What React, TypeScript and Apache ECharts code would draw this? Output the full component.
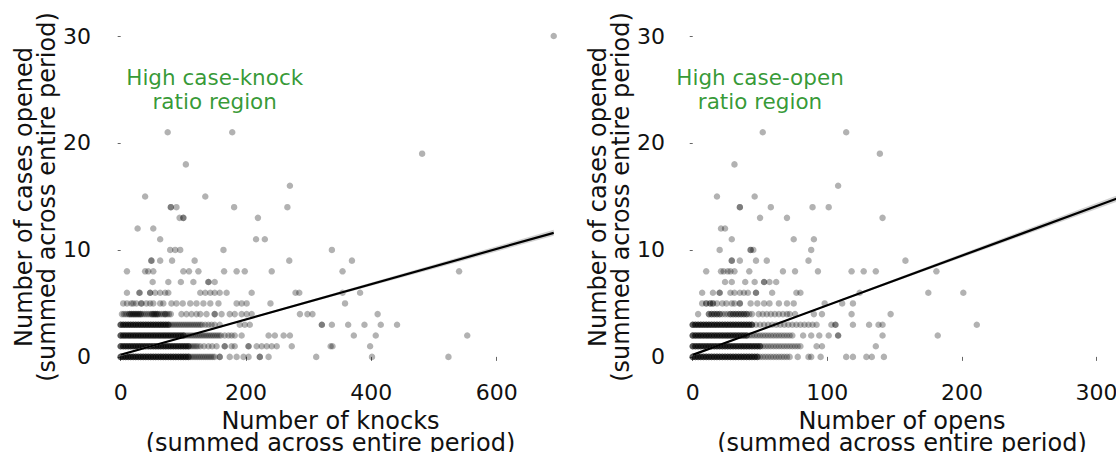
import React, { useEffect, useRef } from "react";
import * as echarts from "echarts";

type Obs = number | [number, number]; // x value, or [x value, number of observations]

// ---------- tick labels ----------
const knockTicks = [0, 200, 400, 600];
const openTicks = [0, 100, 200, 300];
const caseTicks = [0, 10, 20, 30];

// ---------- left panel: number of knocks per cases-opened level ----------
const knockCaseLevels = [0, 1, 2, 3, 4, 5, 6, 7, 8, 9, 10, 11, 12, 13, 14, 15, 16, 18, 19, 21, 30];
const knocks0: Obs[] = [[0,3],[4,3],[8,3],[12,3],[16,3],[20,3],[24,3],[28,3],[32,3],[36,3],[40,3],[44,3],[48,3],[52,3],[56,3],[60,3],[64,3],[68,3],[72,3],[76,3],[80,3],[84,3],[88,3],[92,3],[96,3],[100,3],[104,3],[108,3],
  111,114,117,120,123,126,129,132,135,138,141,144,147,150,[158,2],174,185,196,204,[222,2],236,312,401,523];
const knocks1: Obs[] = [[0,3],[4,3],[8,3],[12,3],[16,3],[20,3],[24,3],[28,3],[32,3],[36,3],[40,3],[44,3],[48,3],[52,3],[56,3],[60,3],[64,3],[68,3],[72,3],[76,3],[80,3],[84,3],[88,3],[92,3],[96,3],[100,3],[104,3],[108,3],
  111,114,117,120,123,127,133,140,146,153,[166,2],177,182,[204,2],217,225,233,241,249,273,335,338,398];
const knocks2: Obs[] = [[0,3],[4,3],[8,3],[12,3],[16,3],[20,3],[24,3],[28,3],[32,3],[36,3],[40,3],[44,3],[48,3],[52,3],[56,3],[60,3],[64,3],[68,3],[72,3],[76,3],[80,3],[84,3],[88,3],[92,3],[96,3],[100,3],
  103,106,109,112,115,118,121,124,127,130,133,136,139,142,145,148,151,154,157,160,166,172,177,182,193,236,246,260,270,372,407,553];
const knocks3: Obs[] = [[0,3],[4,3],[8,3],[12,3],[16,3],[20,3],[24,3],[28,3],[32,3],[36,3],[40,3],[44,3],[48,3],[52,3],[56,3],[60,3],[64,3],[68,3],[72,3],[76,3],
  79,82,85,88,91,94,97,100,103,106,109,112,115,118,121,124,127,130,135,140,145,150,158,190,198,206,[321,2],337,363,389,415,441];
const knocks4: Obs[] = [2,5,8,11,[14,2],[17,2],[20,2],[23,2],[26,2],[29,2],[32,2],35,38,41,44,47,[50,2],[53,2],[56,2],[59,2],62,65,68,[71,2],74,77,80,
  97,105,113,121,127,137,[150,2],161,174,182,193,201,209,286,298,306,410];
const knocks5: Obs[] = [4,10,17,20,25,[33,2],41,47,52,63,68,81,89,99,111,121,132,143,156,185,193,201,239,358];
const knocks6: Obs[] = [10,[30,2],[47,2],55,63,71,76,127,135,143,150,158,169,209,279,285,354,382];
const knocks7: Obs[] = [51,76,96,116,[140,2],150];
const knocks8: Obs[] = [10,39,44,52,100,109,124,165,185,198,241,354,540];
const knocks9: Obs[] = [[49,2],63,82,118,269,369];
const knocks10: Obs[] = [79,87,95,164,337];
const knocks11: Obs[] = [63,216,230];
const knocks12: Obs[] = [27,52];
const knocks13: Obs[] = [94,[100,2],219];
const knocks14: Obs[] = [[80,2],89,181,266];
const knocks15: Obs[] = [39,135];
const knocks16: Obs[] = [270];
const knocks18: Obs[] = [104];
const knocks19: Obs[] = [481];
const knocks21: Obs[] = [75,178];
const knocks30: Obs[] = [691];
const knockRows: Obs[][] = [knocks0, knocks1, knocks2, knocks3, knocks4, knocks5, knocks6, knocks7, knocks8, knocks9, knocks10,
  knocks11, knocks12, knocks13, knocks14, knocks15, knocks16, knocks18, knocks19, knocks21, knocks30];

// ---------- right panel: number of opens per cases-opened level ----------
const openCaseLevels = [0, 1, 2, 3, 4, 5, 6, 7, 8, 9, 10, 11, 12, 13, 14, 15, 16, 18, 19, 21];
const opens0: Obs[] = [[0,3],[2,3],[4,3],[6,3],[8,3],[10,3],[12,3],[14,3],[16,3],[18,3],[20,3],[22,3],[24,3],[26,3],[28,3],[30,3],[32,3],[34,3],[36,3],[38,3],[40,3],[42,3],[44,3],[46,3],[48,3],
  50,52,54,56,58,60,62,64,66,68,70,72,78,86,88,95,114,119,129,133,142];
const opens1: Obs[] = [[0,3],[2,3],[4,3],[6,3],[8,3],[10,3],[12,3],[14,3],[16,3],[18,3],[20,3],[22,3],[24,3],[26,3],[28,3],[30,3],[32,3],[34,3],[36,3],[38,3],[40,3],[42,3],[44,3],[46,3],[48,3],[50,3],
  52,54,56,58,60,62,64,66,68,70,72,74,76,78,80,92,96,136];
const opens2: Obs[] = [[0,3],[2,3],[4,3],[6,3],[8,3],[10,3],[12,3],[14,3],[16,3],[18,3],[20,3],[22,3],[24,3],[26,3],[28,3],[30,3],[32,3],[34,3],[36,3],[38,3],[40,3],
  42,44,46,48,50,52,54,56,58,60,62,64,66,68,70,72,74,82,88,94,101,[108,2],141,182];
const opens3: Obs[] = [[0,3],[2,3],[4,3],[6,3],[8,3],[10,3],[12,3],[14,3],[16,3],[18,3],[20,3],[22,3],[24,3],[26,3],[28,3],[30,3],[32,3],[34,3],[36,3],[38,3],[40,3],[42,3],[44,3],
  47,50,53,56,59,62,65,68,71,74,77,80,83,86,89,92,103,[106,2],119,131,138,141,211];
const opens4: Obs[] = [4,[12,2],[14,2],[16,2],[18,2],[20,2],22,24,26,[28,2],[30,2],[32,2],[34,2],[36,2],[38,2],[40,2],42,44,
  49,52,55,58,61,64,67,70,72,76,90,96,118,147];
const opens5: Obs[] = [7,[10,2],[13,2],[15,2],18,22,25,29,31,[35,2],43,48,53,57,64,70,75,98,111,119];
const opens6: Obs[] = [7,15,[20,2],28,31,35,38,41,[47,2],59,77,80,124,175,201];
const opens7: Obs[] = [24,29,39,46,[53,2],57,62];
const opens8: Obs[] = [10,21,23,26,28,31,42,67,76,93,118,127,136,181];
const opens9: Obs[] = [[29,2],35,47,55,86,158];
const opens10: Obs[] = [20,[43,2],45,88];
const opens11: Obs[] = [29,75,90];
const opens12: Obs[] = [21,24];
const opens13: Obs[] = [50,70,141];
const opens14: Obs[] = [[35,2],58,89,101];
const opens15: Obs[] = [18,46];
const opens16: Obs[] = [108];
const opens18: Obs[] = [31];
const opens19: Obs[] = [139];
const opens21: Obs[] = [52,114];
const openRows: Obs[][] = [opens0, opens1, opens2, opens3, opens4, opens5, opens6, opens7, opens8, opens9, opens10,
  opens11, opens12, opens13, opens14, opens15, opens16, opens18, opens19, opens21];

// ---------- regression fits and confidence bands ----------
const knockFitX = [0, 691];
const knockFitY = [0.2, 11.6];
const knockBandX = [0, 100, 200, 300, 400, 500, 600, 691];
const knockBandLow = [0.08, 1.79, 3.42, 5.03, 6.64, 8.25, 9.86, 11.32];
const knockBandHigh = [0.32, 1.91, 3.58, 5.27, 6.96, 8.65, 10.34, 11.88];

const openFitX = [0, 330];
const openFitY = [0.19, 15.5];
const openBandX = [0, 50, 100, 150, 200, 250, 300, 330];
const openBandLow = [0.09, 2.46, 4.75, 7.02, 9.29, 11.56, 13.83, 15.19];
const openBandHigh = [0.29, 2.56, 4.91, 7.28, 9.65, 12.02, 14.39, 15.81];

// ---------- annotations ----------
const annotationTexts = ["High case-knock\nratio region", "High case-open\nratio region"];
const annotationPos = [[150, 25], [50, 25]];

const xTitles = ["Number of knocks\n(summed across entire period)", "Number of opens\n(summed across entire period)"];
const yTitle = "Number of cases opened\n(summed across entire period)";

function expand(levels: number[], rows: Obs[][]): [number, number][] {
  const pts: [number, number][] = [];
  rows.forEach((row, i) => {
    row.forEach((o) => {
      const x = typeof o === "number" ? o : o[0];
      const n = typeof o === "number" ? 1 : o[1];
      for (let k = 0; k < n; k++) pts.push([x, levels[i]]);
    });
  });
  return pts;
}

const FONT = "DejaVu Sans";

function xAxisCfg(idx: number, min: number, max: number, ticks: number[]) {
  return {
    gridIndex: idx,
    type: "value",
    min,
    max,
    splitLine: { show: false },
    axisLine: { show: false },
    axisTick: { show: true, length: 4, customValues: ticks, lineStyle: { color: "#666", width: 1 } },
    axisLabel: { customValues: ticks, fontSize: 22, color: "#111", margin: 7, fontFamily: FONT },
    name: xTitles[idx],
    nameLocation: "middle",
    nameGap: 36,
    nameTextStyle: { fontSize: 24, lineHeight: 22, color: "#111", fontFamily: FONT },
  };
}

function yAxisCfg(idx: number) {
  return {
    gridIndex: idx,
    type: "value",
    min: -1.6,
    max: 31.5,
    splitLine: { show: false },
    axisLine: { show: false },
    axisTick: { show: true, length: 3, customValues: caseTicks, lineStyle: { color: "#666", width: 1 } },
    axisLabel: { customValues: caseTicks, fontSize: 22, color: "#111", margin: 7, fontFamily: FONT },
    name: yTitle,
    nameLocation: "middle",
    nameGap: 38,
    nameTextStyle: { fontSize: 24, lineHeight: 23, color: "#111", fontFamily: FONT },
  };
}

function bandSeries(idx: number, xs: number[], lo: number[], hi: number[]) {
  return {
    type: "custom",
    xAxisIndex: idx,
    yAxisIndex: idx,
    silent: true,
    z: 3,
    clip: true,
    data: xs.map((x, i) => [x, lo[i], hi[i]]),
    renderItem: (params: any, api: any) => {
      if (params.dataIndex !== 0) return { type: "group", children: [] };
      const pts: number[][] = [];
      xs.forEach((x, i) => pts.push(api.coord([x, hi[i]])));
      for (let i = xs.length - 1; i >= 0; i--) pts.push(api.coord([xs[i], lo[i]]));
      return { type: "polygon", shape: { points: pts }, style: { fill: "#d2d2d2" } };
    },
  };
}

function fitSeries(idx: number, xs: number[], ys: number[]) {
  return {
    type: "line",
    xAxisIndex: idx,
    yAxisIndex: idx,
    silent: true,
    z: 4,
    symbol: "none",
    data: xs.map((x, i) => [x, ys[i]]),
    lineStyle: { color: "#000", width: 2.2 },
  };
}

function scatterSeries(idx: number, pts: [number, number][]) {
  return {
    type: "scatter",
    xAxisIndex: idx,
    yAxisIndex: idx,
    silent: true,
    z: 2,
    symbolSize: 6.5,
    data: pts,
    itemStyle: { color: "#000", opacity: 0.3 },
  };
}

function noteSeries(idx: number) {
  return {
    type: "scatter",
    xAxisIndex: idx,
    yAxisIndex: idx,
    silent: true,
    z: 5,
    symbolSize: 1,
    data: [annotationPos[idx]],
    itemStyle: { color: "rgba(0,0,0,0)" },
    label: {
      show: true,
      position: "inside",
      formatter: annotationTexts[idx],
      color: "#008000",
      fontSize: 21.5,
      lineHeight: 24,
      align: "center",
      fontFamily: FONT,
    },
  };
}

export default function App() {
  const ref = useRef<HTMLDivElement>(null);
  useEffect(() => {
    document.body.style.margin = "0";
    if (!ref.current) return;
    const chart = echarts.init(ref.current, undefined, { renderer: "svg" });
    const option: any = {
      animation: false,
      backgroundColor: "#fff",
      textStyle: { fontFamily: FONT },
      grid: [
        { left: 98, top: 20, width: 465, height: 354, outerBoundsMode: "none", containLabel: false },
        { left: 672, top: 20, width: 460, height: 354, outerBoundsMode: "none", containLabel: false },
      ],
      xAxis: [xAxisCfg(0, -36.2, 705.8, knockTicks), xAxisCfg(1, -15.4, 326.3, openTicks)],
      yAxis: [yAxisCfg(0), yAxisCfg(1)],
      series: [
        scatterSeries(0, expand(knockCaseLevels, knockRows)),
        bandSeries(0, knockBandX, knockBandLow, knockBandHigh),
        fitSeries(0, knockFitX, knockFitY),
        noteSeries(0),
        scatterSeries(1, expand(openCaseLevels, openRows)),
        bandSeries(1, openBandX, openBandLow, openBandHigh),
        fitSeries(1, openFitX, openFitY),
        noteSeries(1),
      ],
    };
    chart.setOption(option);
    return () => chart.dispose();
  }, []);
  return <div ref={ref} style={{ width: 1116, height: 452 }} />;
}
